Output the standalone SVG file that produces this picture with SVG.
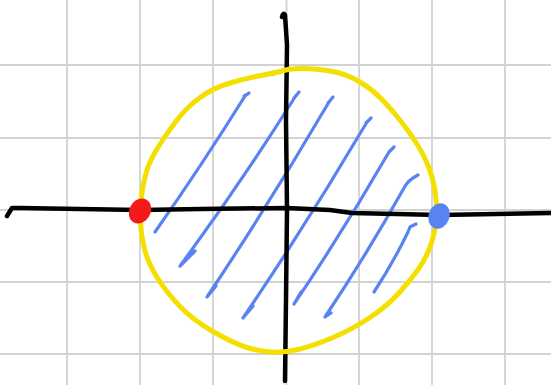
<svg xmlns="http://www.w3.org/2000/svg" width="551" height="385" viewBox="0 0 551 385">
  <style>
    .grid { stroke: #d2d2d2; stroke-width: 1.8; fill: none; }
    .axis { stroke: #000; stroke-width: 4.5; fill: none; stroke-linecap: round; stroke-linejoin: round; }
    .circle { stroke: #f4e000; stroke-width: 5; fill: none; stroke-linecap: round; stroke-linejoin: round; }
    .hatch { stroke: #5a83f2; stroke-width: 3.2; fill: none; stroke-linecap: round; stroke-linejoin: round; }
  </style>
  <rect width="551" height="385" fill="#ffffff"/>
  <g id="grid" class="grid">
    <line x1="67" y1="0" x2="67" y2="385"/>
    <line x1="140" y1="0" x2="140" y2="385"/>
    <line x1="213" y1="0" x2="213" y2="385"/>
    <line x1="286.5" y1="0" x2="286.5" y2="385"/>
    <line x1="359" y1="0" x2="359" y2="385"/>
    <line x1="432" y1="0" x2="432" y2="385"/>
    <line x1="505" y1="0" x2="505" y2="385"/>
    <line x1="0" y1="65" x2="551" y2="65"/>
    <line x1="0" y1="138" x2="551" y2="138"/>
    <line x1="0" y1="210" x2="551" y2="210"/>
    <line x1="0" y1="282" x2="551" y2="282"/>
    <line x1="0" y1="354" x2="551" y2="354"/>
  </g>
  <g id="hatch" class="hatch">
    <path d="M155,232 Q202,165 245,96 L249,93 L244,96"/>
    <path d="M195,251 L180,266 Q241,183 295,97 L299,92 L294,98"/>
    <path d="M216,286 L207,297 Q271,201 329,102 L333,97 L328,103"/>
    <path d="M253,306 L243,318 Q308,222 367,122 L371,118 L366,123"/>
    <path d="M301,292 L294,304 Q344,230 389,152 L394,147 L389,152"/>
    <path d="M331,313 L325,317 Q367,254 404,188 Q408,180 418,175"/>
    <path d="M374,292 Q393,263 408,232 L410,227 L416,224"/>
  </g>
  <g id="axes" class="axis">
    <path d="M7,216 L12,208 L20,208 L140,210 L200,209 L287,208 L330,210 L352,213 L440,215 L551,213"/>
    <path d="M282,17 Q283,12 285,15 L287,45 L286,120 L287,210 L286,300 L285,381"/>
  </g>
  <g id="circle">
    <path class="circle" d="M272,74 L279.5,71.5 Q287,69 300,68.5 Q313,68 330,71 Q347,74 360,82 Q373,90 383,100.5 Q393,111 401.5,122 Q410,133 417,144 Q424,155 428.5,166.5 Q433,178 435,190.5 Q437,203 436.5,215.5 Q436,228 431.5,242.5 Q427,257 418.5,269 Q410,281 398.5,293.5 Q387,306 370,317.5 Q353,329 333,337.5 Q313,346 298,349.5 Q283,353 270.5,352 Q258,351 245.5,347 Q233,343 213,331.5 Q193,320 180,306.5 Q167,293 157.5,278 Q148,263 144.5,249 Q141,235 140.5,222.5 Q140,210 141.5,196.5 Q143,183 146.5,171.5 Q150,160 158.5,146.5 Q167,133 177,120 Q187,107 200,97.5 Q213,88 230,83 Q247,78 261,75.5 Q275,73 290,69"/>
  </g>
  <g id="red-point">
    <ellipse cx="140" cy="211" rx="10.5" ry="13" transform="rotate(30 140 211)" fill="#f41a1a"/>
  </g>
  <g id="blue-point">
    <ellipse cx="439" cy="216" rx="10.5" ry="13" transform="rotate(20 439 216)" fill="#5a83f2"/>
  </g>
</svg>
